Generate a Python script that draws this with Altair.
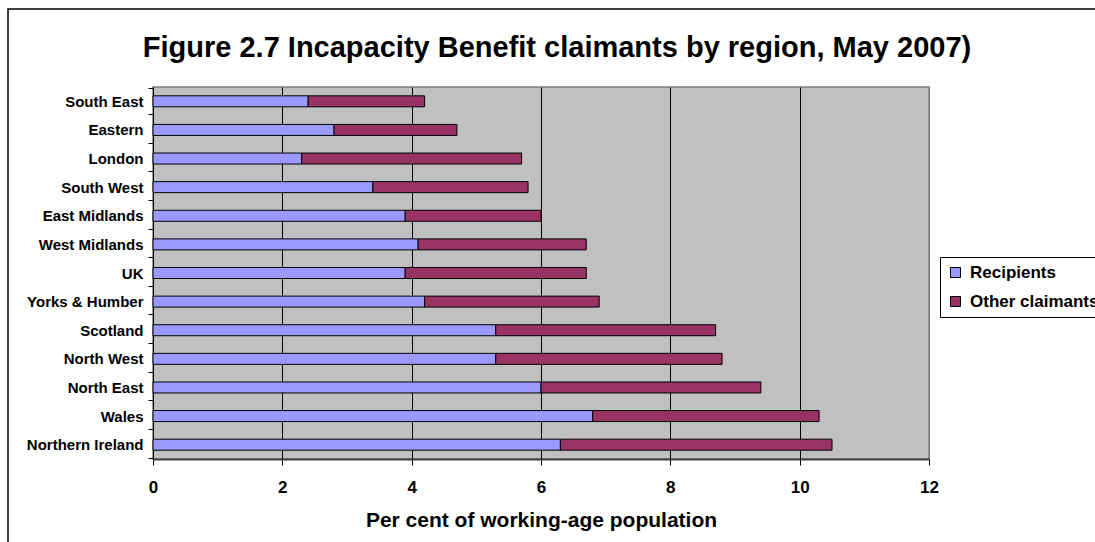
import altair as alt
import pandas as pd

regions = ["South East", "Eastern", "London", "South West", "East Midlands",
           "West Midlands", "UK", "Yorks & Humber", "Scotland", "North West",
           "North East", "Wales", "Northern Ireland"]
recipients = [2.4, 2.8, 2.3, 3.4, 3.9, 4.1, 3.9, 4.2, 5.3, 5.3, 6.0, 6.8, 6.3]
other_claimants = [1.8, 1.9, 3.4, 2.4, 2.1, 2.6, 2.8, 2.7, 3.4, 3.5, 3.4, 3.5, 4.2]
series = ["Recipients", "Other claimants"]
colors = ["#9999FF", "#993366"]
x_ticks = [0, 2, 4, 6, 8, 10, 12]
title_text = "Figure 2.7 Incapacity Benefit claimants by region, May 2007)"

rows = []
for r, a, b in zip(regions, recipients, other_claimants):
    rows.append({"region": r, "series": series[0], "value": a, "k": 0})
    rows.append({"region": r, "series": series[1], "value": b, "k": 1})
df = pd.DataFrame(rows)

FONT = "Liberation Sans"

bars = alt.Chart(df).mark_bar(size=11, stroke="black", strokeWidth=1).encode(
    y=alt.Y("region:N", sort=regions, title=None,
            axis=alt.Axis(labelFont=FONT, labelFontWeight="bold", labelFontSize=15,
                          labelColor="black", tickBand="extent", tickSize=5,
                          tickColor="black", domainColor="black", labelPadding=5,
                          grid=False)),
    x=alt.X("value:Q", stack="zero",
            scale=alt.Scale(domain=[0, 12], nice=False),
            title="Per cent of working-age population",
            axis=alt.Axis(values=x_ticks, labelFont=FONT, labelFontWeight="bold",
                          labelFontSize=17, labelColor="black", tickSize=6,
                          tickColor="black", domainColor="#404040", domainWidth=2,
                          labelPadding=14, labelFlush=False,
                          titleFont=FONT, titleFontSize=21,
                          titleFontWeight="bold", titleColor="black", titlePadding=14,
                          grid=True,
                          gridColor={"condition": {"test": "datum.value === 12", "value": "#808080"}, "value": "black"},
                          gridWidth=1, gridOpacity=1)),
    color=alt.Color("series:N", scale=alt.Scale(domain=series, range=colors),
                    legend=alt.Legend(title=None, orient="none", legendX=787, legendY=170,
                                      symbolType="square", symbolSize=100,
                                      symbolStrokeColor="black", symbolStrokeWidth=1,
                                      symbolOpacity=1,
                                      labelFont=FONT, labelFontWeight="bold", labelFontSize=17,
                                      labelColor="black", rowPadding=11, labelOffset=6,
                                      strokeColor="black", fillColor="white", padding=7)),
    order=alt.Order("k:Q"),
)

frame = alt.Chart(alt.Data(values=[{}])).mark_rect(
    fill=None, fillOpacity=0, stroke="black", strokeWidth=1.5
).encode(x=alt.value(-145), x2=alt.value(960), y=alt.value(-78), y2=alt.value(470))

title = alt.Chart(alt.Data(values=[{"t": title_text}])).mark_text(
    font=FONT, fontSize=29, fontWeight="bold", color="black",
    align="center", baseline="alphabetic"
).encode(text="t:N", x=alt.value(404), y=alt.value(-30))

chart = alt.layer(bars, frame, title).properties(
    width=776, height=372,
    autosize=alt.AutoSizeParams(type="none"),
    padding={"left": 153, "top": 87, "right": 166, "bottom": 83},
    background="white",
).configure_view(fill="#C0C0C0", stroke="#808080", strokeWidth=1.5)

chart.save("out.html", embed_options={"renderer": "svg", "actions": False})
